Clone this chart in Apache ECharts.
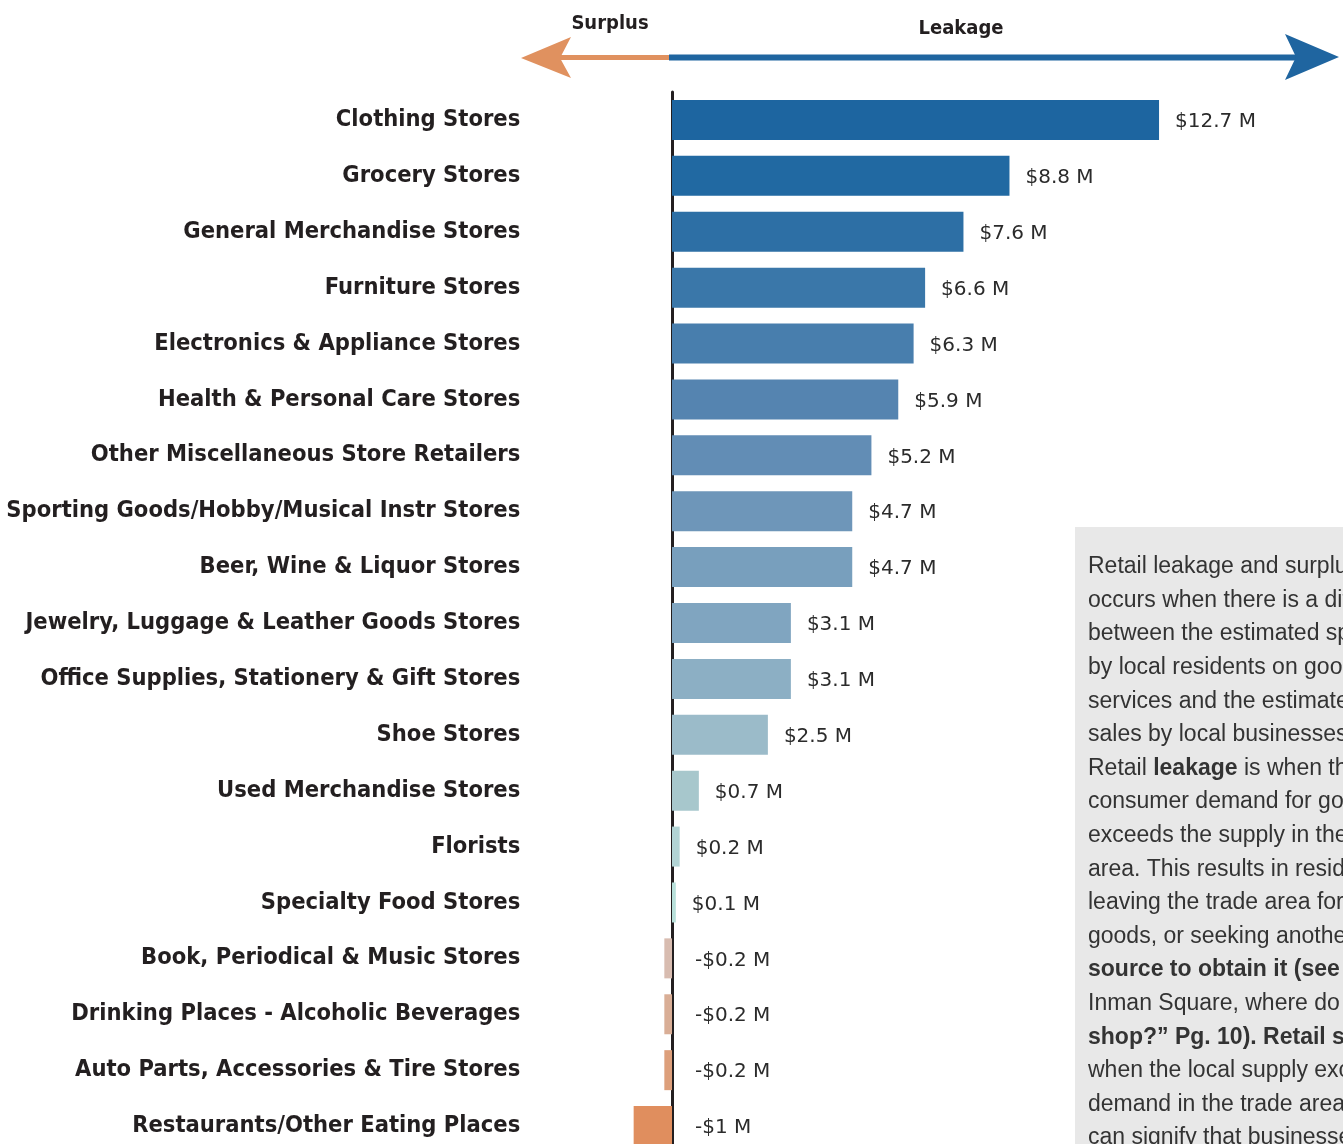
<!DOCTYPE html>
<html>
<head>
<meta charset="utf-8">
<script src="https://cdn.jsdelivr.net/npm/echarts@6/dist/echarts.min.js"></script>
<style>
  html, body { margin: 0; padding: 0; background: #ffffff; }
  #chart { width: 1343px; height: 1144px; }
</style>
</head>
<body>
<div id="chart"></div>
<script>
// Retail leakage (positive) and surplus (negative) by store category, $ millions
const categories = [
  'Clothing Stores',
  'Grocery Stores',
  'General Merchandise Stores',
  'Furniture Stores',
  'Electronics & Appliance Stores',
  'Health & Personal Care Stores',
  'Other Miscellaneous Store Retailers',
  'Sporting Goods/Hobby/Musical Instr Stores',
  'Beer, Wine & Liquor Stores',
  'Jewelry, Luggage & Leather Goods Stores',
  'Office Supplies, Stationery & Gift Stores',
  'Shoe Stores',
  'Used Merchandise Stores',
  'Florists',
  'Specialty Food Stores',
  'Book, Periodical & Music Stores',
  'Drinking Places - Alcoholic Beverages',
  'Auto Parts, Accessories & Tire Stores',
  'Restaurants/Other Eating Places'
];

const values = [12.7, 8.8, 7.6, 6.6, 6.3, 5.9, 5.2, 4.7, 4.7, 3.1, 3.1, 2.5, 0.7, 0.2, 0.1, -0.2, -0.2, -0.2, -1];

// Blue ramp for leakage, warm ramp for surplus
const barColors = [
  '#1d65a0', '#2169a2', '#2d6fa5', '#3a77a9', '#487ead', '#5584b0',
  '#628db5', '#6e96b9', '#789fbd', '#80a5c0', '#8cafc4', '#9bbbc9',
  '#a7c7cc', '#b1d3d4', '#b8e0da',
  '#d8bcb0', '#d9ae96', '#dd9f7b', '#e08e5e'
];

const headerLeft = 'Surplus';
const headerRight = 'Leakage';

const noteLines = [
  'Retail leakage and surplus',
  'occurs when there is a difference',
  'between the estimated spending',
  'by local residents on goods and',
  'services and the estimated',
  'sales by local businesses.',
  'Retail {b|leakage} is when the',
  'consumer demand for goods',
  'exceeds the supply in the trade',
  'area. This results in residents',
  'leaving the trade area for',
  'goods, or seeking another',
  '{b|source to obtain it (see \u201cif not}',
  'Inman Square, where do you',
  '{b|shop?\u201d Pg. 10). Retail surplus is}',
  'when the local supply exceeds',
  'demand in the trade area, which',
  'can signify that businesses'
];

const fmtMoney = v => (v < 0 ? '-$' : '$') + String(Math.abs(v)) + ' M';

const labelFont = "'Liberation Sans Narrow', 'Arial Narrow', 'DejaVu Sans Condensed', sans-serif";
const noteFont = "'Liberation Sans', Arial, sans-serif";

const barData = values.map((v, i) => ({
  value: v,
  itemStyle: { color: barColors[i] },
  label: { distance: v < 0 ? 23 : 16 }
}));

const chart = echarts.init(document.getElementById('chart'), null, { renderer: 'canvas' });

chart.setOption({
  backgroundColor: '#ffffff',
  animation: false,
  grid: {
    left: 595.3, width: 690.3, top: 92, height: 1062,
    containLabel: false,
    outerBoundsMode: 'none'
  },
  xAxis: {
    type: 'value',
    min: -2,
    max: 16,
    axisLine: { show: false },
    axisTick: { show: false },
    axisLabel: { show: false },
    splitLine: { show: false }
  },
  yAxis: {
    type: 'category',
    inverse: true,
    data: categories,
    axisLine: { show: true, onZero: true, lineStyle: { color: '#231f20', width: 3 } },
    axisTick: { show: false },
    axisLabel: {
      margin: 75,
      color: '#231f20',
      fontFamily: labelFont,
      fontWeight: 'bold',
      fontSize: 23.5
    }
  },
  series: [{
    type: 'bar',
    data: barData,
    barWidth: 40,
    z: 1,
    label: {
      show: true,
      position: 'right',
      offset: [0, 2],
      color: '#2b2b2b',
      fontFamily: "'DejaVu Sans', sans-serif",
      fontSize: 20,
      formatter: p => fmtMoney(values[p.dataIndex])
    }
  }],
  graphic: [
    // surplus / leakage direction arrow
    { type: 'line', shape: { x1: 560, y1: 57.5, x2: 669, y2: 57.5 }, style: { stroke: '#e0915f', lineWidth: 5 } },
    { type: 'line', shape: { x1: 669, y1: 57.5, x2: 1297, y2: 57.5 }, style: { stroke: '#1f65a0', lineWidth: 6 } },
    { type: 'polygon', shape: { points: [[521, 58], [571, 37], [560, 58], [571, 78]] }, style: { fill: '#e0915f' } },
    { type: 'polygon', shape: { points: [[1339, 57], [1285, 34], [1296, 57], [1285, 80]] }, style: { fill: '#1f65a0' } },
    {
      type: 'text', x: 610, y: 24,
      style: { text: headerLeft, align: 'center', verticalAlign: 'middle', fill: '#231f20',
               font: "bold 20px " + labelFont }
    },
    {
      type: 'text', x: 961, y: 29,
      style: { text: headerRight, align: 'center', verticalAlign: 'middle', fill: '#231f20',
               font: "bold 20px " + labelFont }
    },
    // explanatory note panel
    { type: 'rect', shape: { x: 1075, y: 527, width: 300, height: 650 }, style: { fill: '#e8e8e8' } },
    {
      type: 'text', x: 1088, y: 550,
      style: {
        text: noteLines.join('\n'),
        fill: '#333333',
        font: "23px " + noteFont,
        lineHeight: 33.6,
        verticalAlign: 'top',
        rich: {
          b: { fontWeight: 'bold', fontSize: 23, fontFamily: noteFont, fill: '#333333', lineHeight: 33.6 }
        }
      }
    }
  ]
});
</script>
</body>
</html>
